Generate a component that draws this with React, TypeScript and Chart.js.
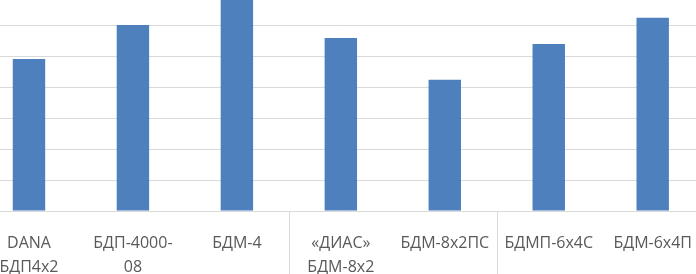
import React, { useEffect, useRef } from "react";
import { Chart, registerables } from "chart.js";

Chart.register(...registerables);

const categories: (string | string[])[] = [
  ["DANA", "БДП4х2"],
  ["БДП-4000-", "08"],
  "БДМ-4",
  ["«ДИАС»", "БДМ-8х2"],
  "БДМ-8х2ПС",
  "БДМП-6х4С",
  "БДМ-6х4П",
];
const values: number[] = [4.9, 6.0, 6.85, 5.58, 4.23, 5.39, 6.23];
const groupStarts: number[] = [3, 5];

const separatorPlugin = {
  id: "groupSeparators",
  afterDraw(chart: any) {
    const x = chart.scales.x;
    const ctx = chart.ctx;
    ctx.save();
    ctx.strokeStyle = "#D9D9D9";
    ctx.lineWidth = 1;
    for (const g of groupStarts) {
      const px = Math.round((x.getPixelForValue(g - 1) + x.getPixelForValue(g)) / 2) + 0.5;
      ctx.beginPath();
      ctx.moveTo(px, chart.chartArea.bottom);
      ctx.lineTo(px, chart.height);
      ctx.stroke();
    }
    ctx.restore();
  },
};

export default function App() {
  const ref = useRef<HTMLCanvasElement | null>(null);
  useEffect(() => {
    if (!ref.current) return;
    const chart = new Chart(ref.current, {
      type: "bar",
      data: {
        labels: categories,
        datasets: [
          {
            data: values,
            backgroundColor: "#4E80BD",
            borderWidth: 0,
            categoryPercentage: 1,
            barPercentage: 0.312,
          },
        ],
      },
      options: {
        animation: false,
        responsive: false,
        devicePixelRatio: 1,
        layout: { padding: 0 },
        plugins: { legend: { display: false }, tooltip: { enabled: false } },
        scales: {
          x: {
            offset: true,
            grid: { display: false, drawTicks: false },
            border: { display: false },
            ticks: {
              color: "#595959",
              font: { family: "'Open Sans'", size: 16, lineHeight: "24px" },
              padding: 20,
              maxRotation: 0,
              minRotation: 0,
              autoSkip: false,
            },
            afterFit: (s: any) => {
              s.height = 63;
            },
          },
          y: {
            min: 0,
            max: 7,
            ticks: { display: false, stepSize: 1 },
            grid: { color: "#D9D9D9", lineWidth: 1, drawTicks: false },
            border: { display: false },
            afterFit: (s: any) => {
              s.width = 0;
            },
          },
        },
      },
      plugins: [separatorPlugin],
    });
    return () => chart.destroy();
  }, []);
  return (
    <div
      style={{
        position: "fixed",
        left: 0,
        top: 0,
        width: 696,
        height: 274,
        overflow: "hidden",
        background: "#fff",
      }}
    >
      <div style={{ position: "absolute", left: -23, top: -6, width: 735, height: 280 }}>
        <canvas ref={ref} width={735} height={280} style={{ display: "block" }} />
      </div>
    </div>
  );
}
